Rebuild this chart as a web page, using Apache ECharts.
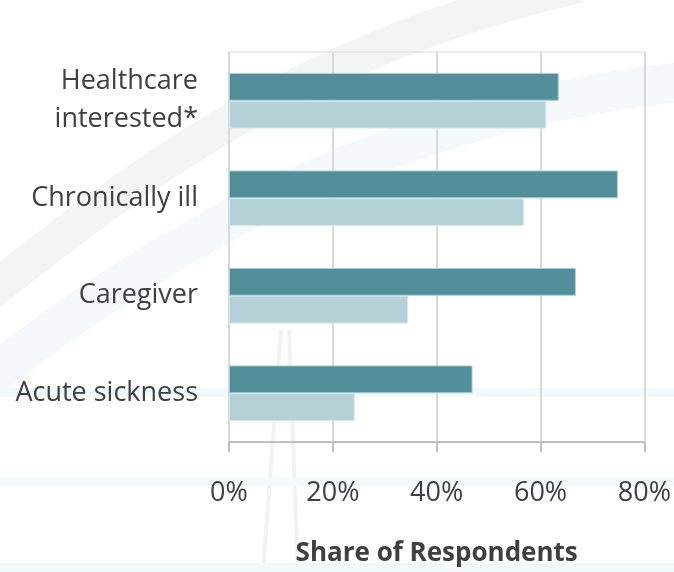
<!DOCTYPE html>
<html>
<head>
<meta charset="utf-8">
<script src="https://cdn.jsdelivr.net/npm/echarts@6/dist/echarts.min.js"></script>
<style>html,body{margin:0;padding:0;background:#fff;}#c{width:674px;height:572px;}</style>
</head>
<body>
<div id="c"></div>
<script>
var categories = ['Acute sickness', 'Caregiver', 'Chronically ill', 'Healthcare\ninterested*'];
var seriesDark = [46.9, 66.8, 74.9, 63.5];
var seriesLight = [24.2, 34.5, 56.8, 61.1];
var xTicks = [0, 20, 40, 60, 80];

var chart = echarts.init(document.getElementById('c'));
var font = '"Open Sans", sans-serif';
chart.setOption({
  backgroundColor: '#ffffff',
  animation: false,
  graphic: [
    { type: 'bezierCurve', z: -10, silent: true, shape: { x1: -20, y1: 300, cpx1: 120, cpy1: 190, cpx2: 290, cpy2: 50, x2: 580, y2: -15 }, style: { stroke: '#f4f4f4', lineWidth: 36, fill: null } },
    { type: 'bezierCurve', z: -10, silent: true, shape: { x1: -20, y1: 385, cpx1: 150, cpy1: 250, cpx2: 380, cpy2: 110, x2: 700, y2: 80 }, style: { stroke: '#f5f9fb', lineWidth: 40, fill: null } },
    { type: 'line', z: -10, silent: true, shape: { x1: 281, y1: 330, x2: 263, y2: 572 }, style: { stroke: '#f2f2f2', lineWidth: 4 } },
    { type: 'line', z: -10, silent: true, shape: { x1: 289, y1: 330, x2: 298, y2: 572 }, style: { stroke: '#f2f2f2', lineWidth: 4 } },
    { type: 'rect', z: -10, silent: true, shape: { x: 0, y: 388, width: 674, height: 9 }, style: { fill: '#f4f9fc' } },
    { type: 'rect', z: -10, silent: true, shape: { x: 0, y: 478, width: 674, height: 8 }, style: { fill: '#f4f9fc' } },
    { type: 'rect', z: -10, silent: true, shape: { x: 0, y: 563, width: 674, height: 9 }, style: { fill: '#f4f9fc' } }
  ],
  grid: { left: 229, right: 29, top: 52, bottom: 129, show: true, borderColor: '#d9d9d9', borderWidth: 1, backgroundColor: 'transparent' },
  xAxis: {
    type: 'value', min: 0, max: 80, interval: 20,
    name: 'Share of Respondents', nameLocation: 'middle', nameGap: 99,
    nameTextStyle: { fontFamily: font, fontSize: 26, fontWeight: 'bold', color: '#404040' },
    axisLine: { show: true, lineStyle: { color: '#bfbfbf', width: 2 } },
    axisTick: { show: true, length: 10, lineStyle: { color: '#bfbfbf', width: 2 } },
    splitLine: { show: true, lineStyle: { color: '#d9d9d9', width: 2 } },
    axisLabel: { margin: 38, fontFamily: font, fontSize: 27, color: '#404040', formatter: function (v) { return v + '%'; } }
  },
  yAxis: {
    type: 'category', data: categories,
    axisLine: { show: true, lineStyle: { color: '#d9d9d9', width: 2 } },
    axisTick: { show: false },
    axisLabel: { margin: 31, fontFamily: font, fontSize: 27, color: '#404040', lineHeight: 38, align: 'right' }
  },
  series: [
    { name: 'A', type: 'bar', data: seriesDark, barGap: '0%', barCategoryGap: '43%',
      itemStyle: { color: '#528e99', borderColor: '#a9cdd3', borderWidth: 1 } },
    { name: 'B', type: 'bar', data: seriesLight, barGap: '0%', barCategoryGap: '43%',
      itemStyle: { color: '#b3d1d6', borderColor: '#d3e6e9', borderWidth: 1 } }
  ]
});
</script>
</body>
</html>
